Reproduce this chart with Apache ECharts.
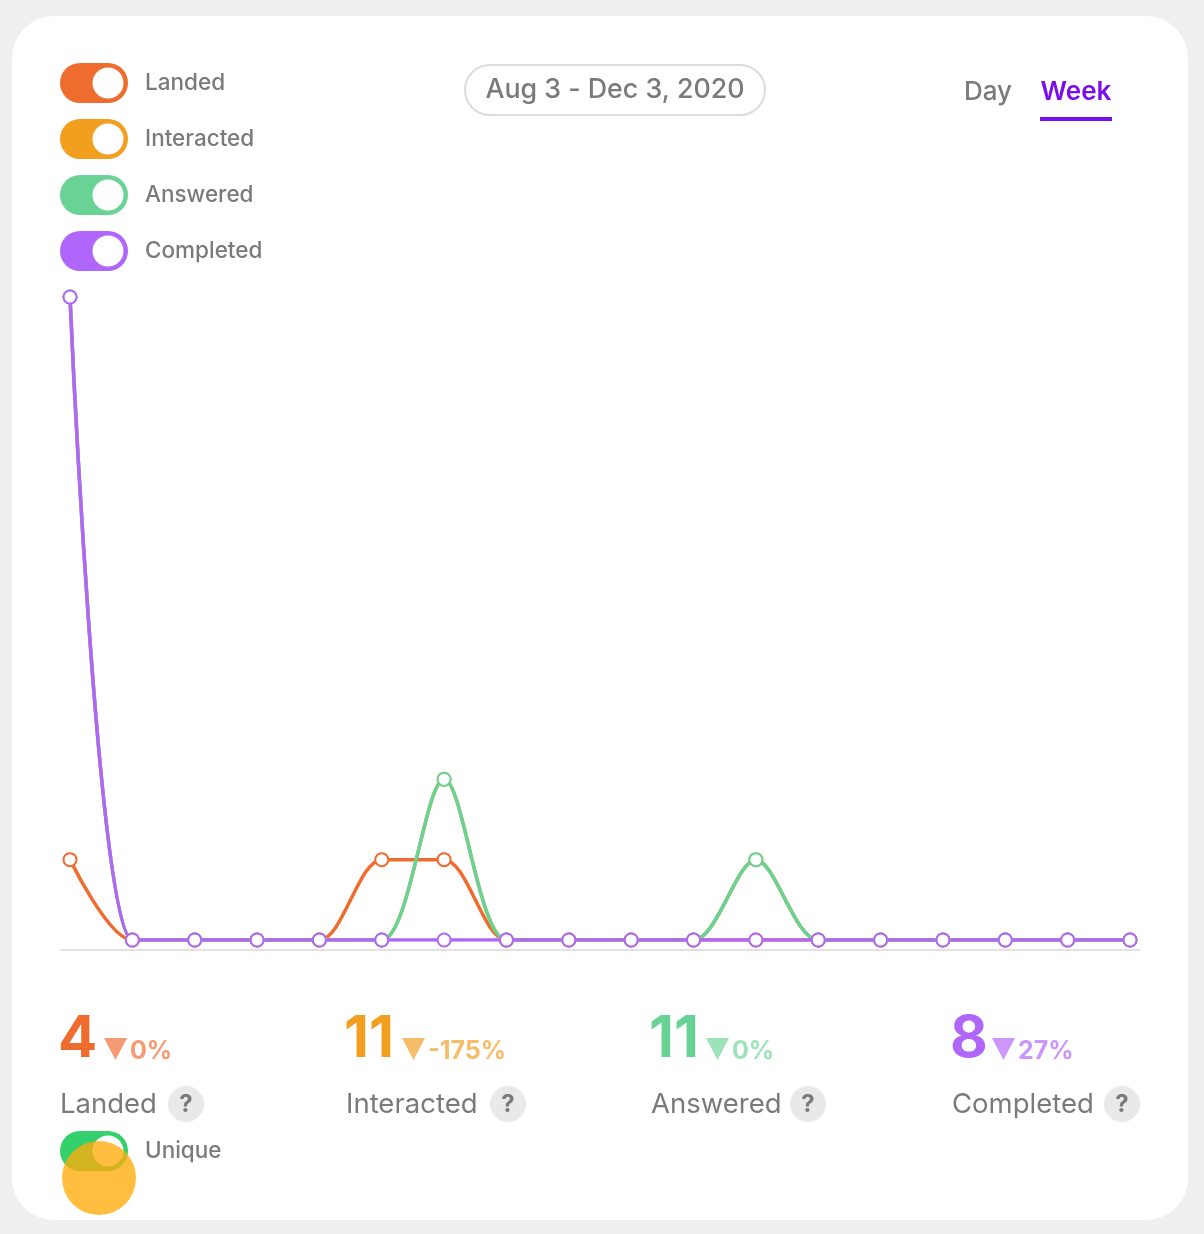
<!DOCTYPE html>
<html>
<head>
<meta charset="utf-8">
<title>Engagement</title>
<script src="https://cdn.jsdelivr.net/npm/echarts@6/dist/echarts.min.js"></script>
<style>
  html, body { margin: 0; padding: 0; background: #efefef; }
  #main { width: 1204px; height: 1234px; }
</style>
</head>
<body>
<div id="main"></div>
<script>
// weeks from Aug 3, 2020
var weeks = ['Aug 3', 'Aug 10', 'Aug 17', 'Aug 24', 'Aug 31', 'Sep 7', 'Sep 14', 'Sep 21', 'Sep 28',
  'Oct 5', 'Oct 12', 'Oct 19', 'Oct 26', 'Nov 2', 'Nov 9', 'Nov 16', 'Nov 23', 'Nov 30'];
var landed     = [1, 0, 0, 0, 0, 1, 1, 0, 0, 0, 0, 0, 0, 0, 0, 0, 0, 0];
var interacted = [8, 0, 0, 0, 0, 0, 2, 0, 0, 0, 0, 1, 0, 0, 0, 0, 0, 0];
var answered   = [8, 0, 0, 0, 0, 0, 2, 0, 0, 0, 0, 1, 0, 0, 0, 0, 0, 0];
var completed  = [8, 0, 0, 0, 0, 0, 0, 0, 0, 0, 0, 0, 0, 0, 0, 0, 0, 0];

var seriesNames = ['Landed', 'Interacted', 'Answered', 'Completed'];
var colors = ['#ef6c2f', '#f29e1f', '#68d394', '#b066fa'];
var lightColors = ['#f59a72', '#f7bc68', '#9ce3b8', '#cc96fb'];
var totals = ['4', '11', '11', '8'];
var changes = ['0%', '-175%', '0%', '27%'];

var FONT = 'Inter, "Noto Sans", sans-serif';
var GREY = '#7a7a7a';

var myChart = echarts.init(document.getElementById('main'));

function toggle(x, y, color, label) {
  return {
    type: 'group', x: x, y: y, z: 50,
    children: [
      { type: 'rect', shape: { x: 0, y: 0, width: 68, height: 40, r: 20 }, style: { fill: color } },
      { type: 'circle', shape: { cx: 48, cy: 20, r: 15.5 }, style: { fill: '#fff' } },
      { type: 'text', x: 85, y: 20, style: { text: label, fill: GREY, font: '500 22.5px ' + FONT, verticalAlign: 'middle' } }
    ]
  };
}

function statBlock(i, x, numW, qx) {
  var c = colors[i];
  var lc = lightColors[i];
  var tx = x + numW + 4;
  return {
    type: 'group', x: 0, y: 0, z: 50,
    children: [
      { type: 'text', x: x - 2, y: 1040, style: { text: totals[i], fill: c, font: '700 58px ' + FONT, verticalAlign: 'middle' } },
      { type: 'polygon', shape: { points: [[tx, 1038], [tx + 23, 1038], [tx + 11.5, 1060]] }, style: { fill: lc } },
      { type: 'text', x: tx + 26, y: 1051, style: { text: changes[i], fill: lc, font: '700 25px ' + FONT, verticalAlign: 'middle' } },
      { type: 'text', x: x, y: 1105, style: { text: seriesNames[i], fill: GREY, font: '400 27.5px ' + FONT, verticalAlign: 'middle' } },
      { type: 'circle', shape: { cx: qx, cy: 1104, r: 18 }, style: { fill: '#e9e9e9' } },
      { type: 'text', x: qx, y: 1105, style: { text: '?', fill: GREY, font: '700 24px ' + FONT, align: 'center', verticalAlign: 'middle' } }
    ]
  };
}

var series = [landed, interacted, answered, completed].map(function (d, i) {
  return {
    name: seriesNames[i],
    type: 'line',
    smooth: 0.3,
    data: d,
    symbol: 'emptyCircle',
    symbolSize: 13,
    lineStyle: { width: 3.5, color: colors[i] },
    itemStyle: { color: colors[i], borderWidth: 3 },
    emphasis: { disabled: true }
  };
});

myChart.setOption({
  backgroundColor: '#efefef',
  animation: false,
  grid: { left: 70, right: 74, top: 297, bottom: 294 },
  xAxis: {
    type: 'category',
    boundaryGap: false,
    data: weeks,
    axisLine: { show: false },
    axisTick: { show: false },
    axisLabel: { show: false },
    splitLine: { show: false }
  },
  yAxis: {
    type: 'value',
    min: 0,
    max: 8,
    axisLine: { show: false },
    axisTick: { show: false },
    axisLabel: { show: false },
    splitLine: { show: false }
  },
  graphic: [
    // card
    { type: 'rect', z: -10, shape: { x: 12, y: 16, width: 1176, height: 1204, r: 42 }, style: { fill: '#fff' } },
    // baseline
    { type: 'line', z: 1, shape: { x1: 60, y1: 950, x2: 1140, y2: 950 }, style: { stroke: '#e2e2e2', lineWidth: 2 } },
    // toggles
    toggle(60, 63, colors[0], 'Landed'),
    toggle(60, 119, colors[1], 'Interacted'),
    toggle(60, 175, colors[2], 'Answered'),
    toggle(60, 231, colors[3], 'Completed'),
    // date range pill
    { type: 'rect', z: 50, shape: { x: 465, y: 65, width: 300, height: 50, r: 25 }, style: { fill: '#fff', stroke: '#dcdcdc', lineWidth: 2 } },
    { type: 'text', z: 51, x: 615, y: 90, style: { text: 'Aug 3 - Dec 3, 2020', fill: GREY, font: '500 26.8px ' + FONT, align: 'center', verticalAlign: 'middle' } },
    // Day / Week
    { type: 'text', z: 50, x: 988, y: 92, style: { text: 'Day', fill: GREY, font: '500 26px ' + FONT, align: 'center', verticalAlign: 'middle' } },
    { type: 'text', z: 50, x: 1076, y: 92, style: { text: 'Week', fill: '#7a0ef0', font: '600 26px ' + FONT, align: 'center', verticalAlign: 'middle' } },
    { type: 'rect', z: 50, shape: { x: 1040, y: 117, width: 72, height: 4 }, style: { fill: '#7a0ef0' } },
    // stats
    statBlock(0, 60, 40, 186),
    statBlock(1, 346, 52, 508),
    statBlock(2, 651, 51, 808),
    statBlock(3, 952, 36, 1122),
    // unique toggle
    toggle(60, 1131, '#34d06e', 'Unique'),
    // cursor highlight
    { type: 'circle', z: 60, shape: { cx: 99, cy: 1178, r: 37 }, style: { fill: 'rgba(255, 172, 10, 0.78)' } }
  ],
  series: series
});
</script>
</body>
</html>
